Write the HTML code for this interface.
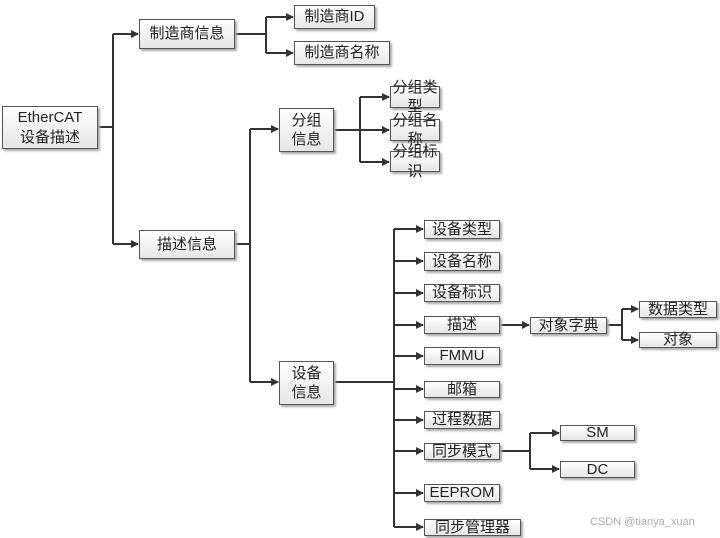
<!DOCTYPE html>
<html><head><meta charset="utf-8"><style>
body{margin:0;width:720px;height:538px;background:#fff;position:relative;overflow:hidden;font-family:"Liberation Sans","Noto Sans CJK SC",sans-serif;}
.b{position:absolute;box-sizing:border-box;border:1px solid #555;background:linear-gradient(#fff,#e6e6e6);box-shadow:2px 2px 2px #aaa;display:flex;align-items:center;justify-content:center;text-align:center;font-size:15px;color:#222;line-height:1.3;}
svg{position:absolute;left:0;top:0}
.w{position:absolute;left:590px;top:516px;font-size:11px;color:#aaa}
</style></head><body>
<svg width="720" height="538">
<defs><marker id="a" markerWidth="8" markerHeight="8" refX="7" refY="4" orient="auto" markerUnits="userSpaceOnUse"><path d="M0,0 L8,4 L0,8z" fill="#333"/></marker></defs>
<g stroke="#333" stroke-width="2" fill="none">
<path d="M98,127H113M113,34V244"/>
<path d="M113,34H138" marker-end="url(#a)"/><path d="M113,244H138" marker-end="url(#a)"/>
<path d="M235,34H266M266,17V53"/>
<path d="M266,17H293" marker-end="url(#a)"/><path d="M266,53H293" marker-end="url(#a)"/>
<path d="M235,244H250M250,129V382"/>
<path d="M250,129H278" marker-end="url(#a)"/><path d="M250,382H278" marker-end="url(#a)"/>
<path d="M334,130H360M360,97V162"/>
<path d="M360,97H389" marker-end="url(#a)"/><path d="M360,130H389" marker-end="url(#a)"/><path d="M360,162H389" marker-end="url(#a)"/>
<path d="M334,382H394M394,229V527"/>
<path d="M394,229H423" marker-end="url(#a)"/><path d="M394,261H423" marker-end="url(#a)"/><path d="M394,293H423" marker-end="url(#a)"/><path d="M394,325H423" marker-end="url(#a)"/><path d="M394,356H423" marker-end="url(#a)"/><path d="M394,389H423" marker-end="url(#a)"/><path d="M394,420H423" marker-end="url(#a)"/><path d="M394,451H423" marker-end="url(#a)"/><path d="M394,493H423" marker-end="url(#a)"/><path d="M394,527H423" marker-end="url(#a)"/>
<path d="M500,325H529" marker-end="url(#a)"/>
<path d="M607,325H622M622,309V340"/>
<path d="M622,309H638" marker-end="url(#a)"/><path d="M622,340H638" marker-end="url(#a)"/>
<path d="M500,451H530M530,433V469"/>
<path d="M530,433H559" marker-end="url(#a)"/><path d="M530,469H559" marker-end="url(#a)"/>
</g></svg>
<div class="b" style="left:2px;top:106px;width:96px;height:43px">EtherCAT<br>设备描述</div>
<div class="b" style="left:139px;top:19px;width:96px;height:30px">制造商信息</div>
<div class="b" style="left:294px;top:5px;width:81px;height:24px">制造商ID</div>
<div class="b" style="left:294px;top:41px;width:96px;height:24px">制造商名称</div>
<div class="b" style="left:139px;top:230px;width:96px;height:29px">描述信息</div>
<div class="b" style="left:279px;top:108px;width:55px;height:44px">分组<br>信息</div>
<div class="b" style="left:390px;top:86px;width:50px;height:22px">分组类型</div>
<div class="b" style="left:390px;top:119px;width:50px;height:22px">分组名称</div>
<div class="b" style="left:390px;top:151px;width:50px;height:21px">分组标识</div>
<div class="b" style="left:279px;top:361px;width:55px;height:44px">设备<br>信息</div>
<div class="b" style="left:424px;top:220px;width:76px;height:19px">设备类型</div>
<div class="b" style="left:424px;top:252px;width:76px;height:19px">设备名称</div>
<div class="b" style="left:424px;top:284px;width:76px;height:18px">设备标识</div>
<div class="b" style="left:424px;top:316px;width:76px;height:18px">描述</div>
<div class="b" style="left:424px;top:347px;width:76px;height:18px">FMMU</div>
<div class="b" style="left:424px;top:381px;width:76px;height:17px">邮箱</div>
<div class="b" style="left:424px;top:411px;width:76px;height:18px">过程数据</div>
<div class="b" style="left:424px;top:443px;width:76px;height:17px">同步模式</div>
<div class="b" style="left:424px;top:484px;width:76px;height:18px">EEPROM</div>
<div class="b" style="left:424px;top:519px;width:97px;height:17px">同步管理器</div>
<div class="b" style="left:530px;top:317px;width:77px;height:17px">对象字典</div>
<div class="b" style="left:639px;top:301px;width:78px;height:17px">数据类型</div>
<div class="b" style="left:639px;top:332px;width:78px;height:16px">对象</div>
<div class="b" style="left:560px;top:425px;width:75px;height:16px">SM</div>
<div class="b" style="left:560px;top:461px;width:75px;height:17px">DC</div>
<div class="w">CSDN @tianya_xuan</div>
</body></html>
